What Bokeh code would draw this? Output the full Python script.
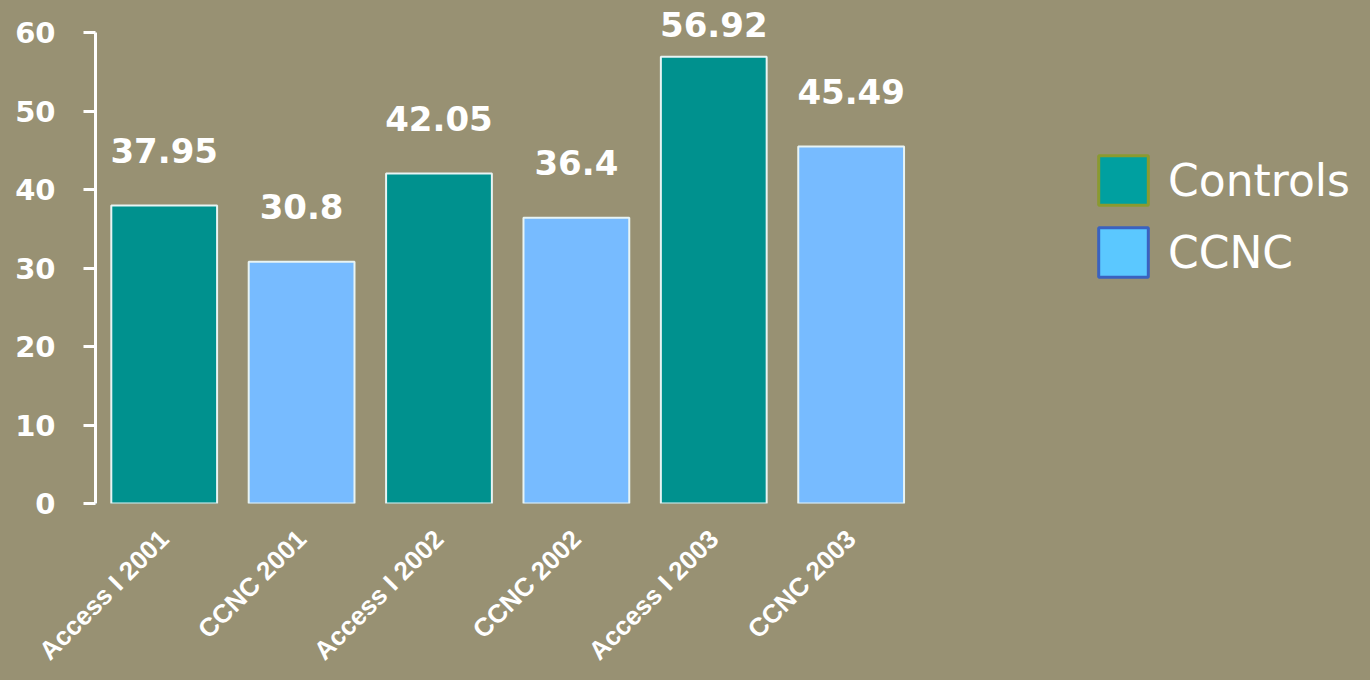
import numpy as np
from bokeh.plotting import figure
from bokeh.models import Range1d, FixedTicker, Legend, LegendItem, ColumnDataSource
from bokeh.core.properties import value
from bokeh.embed import file_html
from bokeh.resources import INLINE

categories = ["Access I 2001", "CCNC 2001", "Access I 2002", "CCNC 2002", "Access I 2003", "CCNC 2003"]
values = [37.95, 30.8, 42.05, 36.4, 56.92, 45.49]
label_texts = ["37.95", "30.8", "42.05", "36.4", "56.92", "45.49"]
series = ["Controls", "CCNC", "Controls", "CCNC", "Controls", "CCNC"]
y_ticks = [0, 10, 20, 30, 40, 50, 60]

BG = "#989173"
bar_colors = {"Controls": "#00918E", "CCNC": "#77BBFF"}
legend_fill = {"Controls": "#00A0A0", "CCNC": "#5BC8FF"}
legend_line = {"Controls": "#8A9A30", "CCNC": "#3A62C0"}

xs = np.arange(len(categories)) + 0.5
vals = np.array(values)
label_y = np.minimum(vals + 7.0, 61.0)

src = ColumnDataSource(dict(
    x=xs, top=vals, cat=categories,
    color=[bar_colors[s] for s in series],
    ly=label_y, txt=label_texts,
))

p = figure(width=1370, height=680, output_backend="svg", toolbar_location=None,
           x_range=Range1d(0, 9.28), y_range=Range1d(0, 64.08),
           min_border_left=95, min_border_right=0, min_border_top=0, min_border_bottom=177)
p.background_fill_color = None
p.border_fill_color = None
p.styles = {"background-color": BG}
p.outline_line_color = None
p.xgrid.visible = False
p.ygrid.visible = False

p.vbar(x="x", top="top", width=0.77, bottom=0, source=src, fill_color="color",
       line_color="#E8F4F4", line_width=2)

p.text(x="x", y="ly", text="txt", source=src, text_align="center", text_baseline="middle",
       text_color="white", text_font=value("DejaVu Sans"), text_font_style="bold",
       text_font_size="34px")

# y axis
ya = p.yaxis[0]
ya.ticker = FixedTicker(ticks=y_ticks)
ya.bounds = (0, 60)
ya.axis_line_color = "white"
ya.axis_line_width = 3
ya.major_tick_line_color = "white"
ya.major_tick_line_width = 3
ya.major_tick_out = 12
ya.major_tick_in = 0
ya.minor_tick_line_color = None
ya.major_label_text_color = "white"
ya.major_label_text_font = "DejaVu Sans"
ya.major_label_text_font_style = "bold"
ya.major_label_text_font_size = "29px"
ya.major_label_standoff = 28

# x axis
xa = p.xaxis[0]
xa.ticker = FixedTicker(ticks=list(xs))
xa.major_label_overrides = {float(x): c for x, c in zip(xs, categories)}
xa.axis_line_color = None
xa.major_tick_line_color = None
xa.minor_tick_line_color = None
xa.major_label_orientation = np.pi / 4
xa.major_label_text_color = "white"
xa.major_label_text_font = "Liberation Sans"
xa.major_label_text_font_style = "bold"
xa.major_label_text_font_size = "26px"
xa.major_label_standoff = 25

# legend swatches (renderers placed outside the visible range, carrying the legend colours)
items = []
for s in ["Controls", "CCNC"]:
    r = p.vbar(x=[-50], top=[1], width=0.5, fill_color=legend_fill[s], line_color=legend_line[s], line_width=3)
    items.append(LegendItem(label=s, renderers=[r]))

legend = Legend(items=items, location=(997, 220), glyph_width=62, glyph_height=62,
                label_height=62, spacing=10, padding=0, margin=0, label_standoff=14,
                label_text_font="DejaVu Sans", label_text_font_size="44px",
                label_text_color="white", background_fill_alpha=0, border_line_color=None)
p.add_layout(legend, "center")

open("out.html", "w").write(file_html(p, INLINE))
